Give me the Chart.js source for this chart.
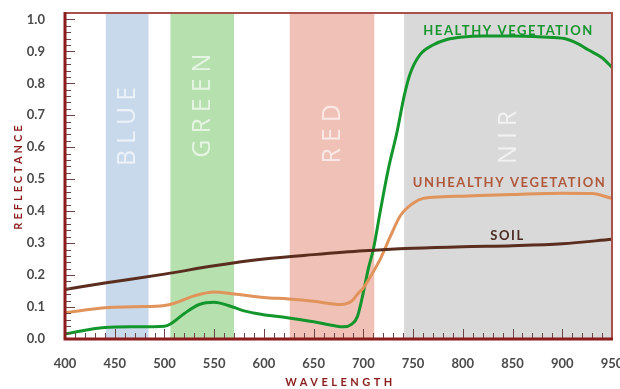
<!DOCTYPE html>
<html>
<head>
<meta charset="utf-8">
<script src="https://cdn.jsdelivr.net/npm/chart.js@4"></script>
<style>
  html, body { margin: 0; padding: 0; background: #fff; }
  #wrap { width: 620px; height: 389px; }
</style>
</head>
<body>
<div id="wrap"><canvas id="spectra"></canvas></div>
<script>
// spectral bands (nm)
const bandNames = ["BLUE", "GREEN", "RED", "NIR"];
const bandStart = [441, 506, 626, 741];
const bandEnd = [484, 570, 711, 950];
const bandColors = ["#c9d9ec", "#b6e0ae", "#f0c1b7", "#d9d9d9"];
const bandLabelY = [0.665, 0.73, 0.642, 0.631];

// reflectance curves
const healthyX = [400, 440, 470, 500, 506, 520, 535, 550, 565, 580, 600, 625, 650, 670, 680, 688, 694, 700, 705, 710, 717, 725, 734, 741, 747, 757, 770, 784, 800, 820, 850, 880, 902, 915, 926, 940, 950];
const healthyY = [0.016, 0.036, 0.038, 0.040, 0.047, 0.080, 0.108, 0.115, 0.104, 0.088, 0.076, 0.066, 0.054, 0.042, 0.038, 0.046, 0.070, 0.146, 0.220, 0.280, 0.400, 0.530, 0.650, 0.760, 0.830, 0.890, 0.920, 0.937, 0.945, 0.948, 0.948, 0.945, 0.940, 0.925, 0.905, 0.880, 0.850];

const unhealthyX = [400, 440, 470, 500, 510, 530, 550, 570, 600, 625, 650, 677, 688, 694, 700, 707, 717, 727, 737, 750, 760, 780, 800, 850, 900, 930, 950];
const unhealthyY = [0.082, 0.098, 0.101, 0.105, 0.112, 0.135, 0.147, 0.141, 0.130, 0.125, 0.118, 0.108, 0.118, 0.140, 0.160, 0.195, 0.250, 0.320, 0.385, 0.425, 0.440, 0.445, 0.447, 0.452, 0.456, 0.455, 0.440];

const soilX = [400, 440, 500, 550, 600, 650, 700, 750, 800, 850, 900, 950];
const soilY = [0.155, 0.175, 0.203, 0.229, 0.250, 0.264, 0.276, 0.284, 0.289, 0.292, 0.298, 0.312];

// curve captions (data units)
const captionText = ["HEALTHY VEGETATION", "UNHEALTHY VEGETATION", "SOIL"];
const captionX = [845, 846, 844];
const captionY = [0.965, 0.49, 0.322];
const captionColors = ["#17952f", "#b0583c", "#4a2c22"];

// tick labels
const xTickValues = [400, 450, 500, 550, 600, 650, 700, 750, 800, 850, 900, 950];
const yTickValues = [0, 0.1, 0.2, 0.3, 0.4, 0.5, 0.6, 0.7, 0.8, 0.9, 1.0];

function toPoints(xs, ys) {
  return xs.map((x, i) => ({ x: x, y: ys[i] }));
}

const axisRed = "#8b1c1c";
const tickGray = "#6a4444";

const backdrop = {
  id: "backdrop",
  beforeDatasetsDraw(chart) {
    const { ctx, chartArea, scales } = chart;
    ctx.save();
    bandNames.forEach((name, i) => {
      const x0 = scales.x.getPixelForValue(bandStart[i]);
      const x1 = scales.x.getPixelForValue(bandEnd[i]);
      ctx.fillStyle = bandColors[i];
      ctx.fillRect(x0, chartArea.top, x1 - x0, chartArea.bottom - chartArea.top);
      // band name, rotated
      ctx.save();
      ctx.translate((x0 + x1) / 2 + 1, scales.y.getPixelForValue(bandLabelY[i]));
      ctx.rotate(-Math.PI / 2);
      ctx.fillStyle = "rgba(255,255,255,0.65)";
      ctx.font = "25px 'Open Sans'";
      ctx.letterSpacing = "6px";
      ctx.textAlign = "center";
      ctx.textBaseline = "middle";
      ctx.fillText(name, 3, 0);
      ctx.restore();
    });
    ctx.restore();
  },
  afterDatasetsDraw(chart) {
    const { ctx, chartArea, scales } = chart;
    const { left, right, top, bottom } = chartArea;
    ctx.save();
    // ticks
    ctx.strokeStyle = tickGray;
    ctx.lineWidth = 1;
    for (let v = 0; v <= 1.0001; v += 0.02) {
      const y = Math.round(scales.y.getPixelForValue(v)) + 0.5;
      const major = Math.abs(v * 10 - Math.round(v * 10)) < 1e-6;
      ctx.beginPath();
      ctx.moveTo(left, y);
      ctx.lineTo(left + (major ? 10 : 6), y);
      ctx.stroke();
    }
    for (let w = 410; w < 950; w += 10) {
      const x = Math.round(scales.x.getPixelForValue(w)) + 0.5;
      const major = w % 50 === 0;
      ctx.beginPath();
      ctx.moveTo(x, bottom);
      ctx.lineTo(x, bottom - (major ? 10 : 6));
      ctx.stroke();
    }
    // frame
    ctx.strokeStyle = "#a8504a";
    ctx.lineWidth = 2;
    ctx.beginPath();
    ctx.moveTo(left, top);
    ctx.lineTo(right, top);
    ctx.lineTo(right, bottom);
    ctx.stroke();
    ctx.strokeStyle = axisRed;
    ctx.lineWidth = 3;
    ctx.beginPath();
    ctx.moveTo(left, top - 1);
    ctx.lineTo(left, bottom);
    ctx.lineTo(right + 1, bottom);
    ctx.stroke();

    // curve captions
    ctx.font = "bold 13px Lato";
    ctx.letterSpacing = "1.6px";
    ctx.textAlign = "center";
    ctx.textBaseline = "middle";
    captionText.forEach((t, i) => {
      ctx.fillStyle = captionColors[i];
      ctx.fillText(t, scales.x.getPixelForValue(captionX[i]) + 1, scales.y.getPixelForValue(captionY[i]));
    });

    // axis titles
    ctx.fillStyle = axisRed;
    ctx.font = "bold 11px Lato";
    ctx.letterSpacing = "3.5px";
    ctx.fillText("WAVELENGTH", (left + right) / 2 + 2, 382);
    ctx.save();
    ctx.translate(18, (top + bottom) / 2);
    ctx.rotate(-Math.PI / 2);
    ctx.letterSpacing = "3px";
    ctx.fillText("REFLECTANCE", 0, 0);
    ctx.restore();
    ctx.restore();
  }
};

const lineStyle = { borderWidth: 3, pointRadius: 0, cubicInterpolationMode: "monotone", fill: false };

const config = {
  type: "line",
  data: {
    datasets: [
      Object.assign({ label: "Soil", data: toPoints(soilX, soilY), borderColor: "#5a2d1e" }, lineStyle),
      Object.assign({ label: "Unhealthy vegetation", data: toPoints(unhealthyX, unhealthyY), borderColor: "#e0935a" }, lineStyle),
      Object.assign({ label: "Healthy vegetation", data: toPoints(healthyX, healthyY), borderColor: "#13962c" }, lineStyle),
    ],
  },
  options: {
    responsive: true,
    maintainAspectRatio: false,
    animation: false,
    layout: { autoPadding: false, padding: { left: 0, right: 8, top: 13, bottom: 0 } },
    plugins: { legend: { display: false }, tooltip: { enabled: false } },
    scales: {
      x: {
        type: "linear",
        min: 400,
        max: 950,
        grid: { display: false },
        border: { display: false },
        ticks: {
          padding: 9,
          color: "#4a4a4a",
          font: { family: "Lato", size: 13, weight: "bold" },
          maxRotation: 0,
          autoSkip: false,
        },
        afterBuildTicks(scale) { scale.ticks = xTickValues.map((v) => ({ value: v })); },
        afterFit(scale) {
          scale.height = 50;
          scale.paddingLeft = 0;
          scale.paddingRight = 0;
        },
      },
      y: {
        min: 0,
        max: 1.02,
        grid: { display: false },
        border: { display: false },
        ticks: {
          padding: 12,
          color: "#4a4a4a",
          font: { family: "Lato", size: 13, weight: "bold" },
          autoSkip: false,
          callback: (v) => v.toFixed(1),
        },
        afterBuildTicks(scale) { scale.ticks = yTickValues.map((v) => ({ value: v })); },
        afterFit(scale) {
          scale.width = 65;
          scale.paddingTop = 0;
          scale.paddingBottom = 0;
        },
      },
    },
  },
  plugins: [backdrop],
};

const chart = new Chart(document.getElementById("spectra"), config);
</script>
</body>
</html>
